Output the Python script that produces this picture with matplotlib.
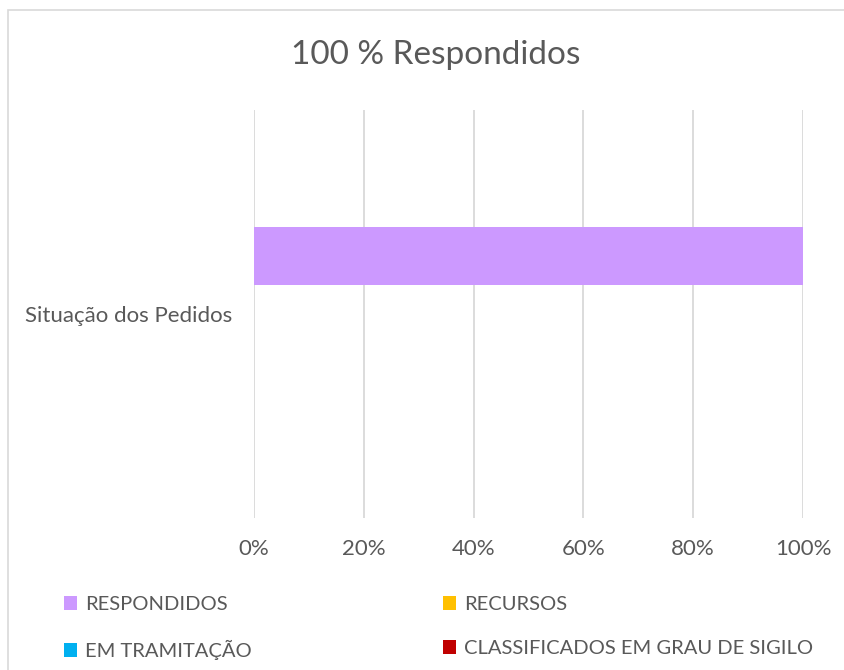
import matplotlib
matplotlib.use("Agg")
import matplotlib.pyplot as plt
from matplotlib.patches import Rectangle, Patch

plt.rcParams['font.family'] = ['Lato', 'DejaVu Sans']

categories = ["Situação dos Pedidos"]
series_names = ["RESPONDIDOS", "RECURSOS", "EM TRAMITAÇÃO", "CLASSIFICADOS EM GRAU DE SIGILO"]
series_values = [100, 0, 0, 0]
series_colors = ["#cc99ff", "#ffc000", "#00b0f0", "#c00000"]
xticks = [0, 20, 40, 60, 80, 100]
xtick_labels = ["0%", "20%", "40%", "60%", "80%", "100%"]
title = "100 % Respondidos"

W, H = 845, 670
fig = plt.figure(figsize=(W / 100, H / 100), dpi=100)
fig.patch.set_facecolor("white")

# chart frame (cut off on right/bottom like the reference)
fig.patches.append(Rectangle((8 / W, -0.1), 1.2, 1 - 10 / H + 0.1, transform=fig.transFigure,
                             facecolor="none", edgecolor="#d9d9d9", linewidth=1.2, zorder=0))

ax = fig.add_axes([254 / W, 1 - 518 / H, (803 - 254) / W, (518 - 110) / H])
bar_h = 58 / 408
offsets = [bar_h, 0, -bar_h, -2 * bar_h]
for name, val, col, off in zip(series_names, series_values, series_colors, offsets):
    ax.barh([0 + off], [val], height=bar_h, color=col, label=name, linewidth=0, zorder=2)

ax.set_xlim(0, 100)
ax.set_ylim(-0.5, 0.5)
ax.set_xticks(xticks)
ax.set_xticklabels(xtick_labels)
ax.set_yticks([0])
ax.set_yticklabels(categories)
ax.tick_params(axis='both', length=0, labelsize=16, colors="#595959")
ax.tick_params(axis='x', pad=15)
ax.tick_params(axis='y', pad=16)
for s in ax.spines.values():
    s.set_visible(False)
ax.grid(axis='x', color="#d9d9d9", linewidth=1.3, zorder=0)
ax.set_axisbelow(True)

fig.text(436 / W, 1 - 55 / H, title, ha="center", va="center", fontsize=24, color="#595959")

handles = [Patch(facecolor=c, edgecolor='none') for c in series_colors]
order = [0, 2, 1, 3]
leg = fig.legend([handles[i] for i in order], [series_names[i] for i in order],
                 ncol=2, loc="upper left", bbox_to_anchor=(64 / W, 1 - 596 / H),
                 frameon=False, fontsize=14.5, handlelength=0.65, handleheight=0.65,
                 handletextpad=0.4, columnspacing=9.5, labelspacing=1.35,
                 borderpad=0, borderaxespad=0, labelcolor="#595959")

fig.savefig("out.png", dpi=100, facecolor="white")
